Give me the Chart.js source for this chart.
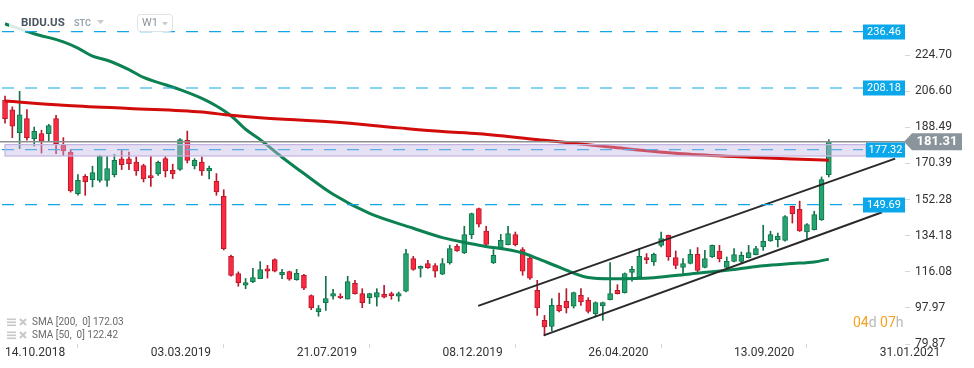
<!DOCTYPE html>
<html lang="en">
<head>
<meta charset="UTF-8">
<title>BIDU.US W1</title>
<style>
  html, body { margin: 0; padding: 0; background: #fff; }
  #wrap { width: 974px; height: 368px; }
</style>
</head>
<body>
<div id="wrap"><canvas id="chart" width="974" height="368"></canvas></div>
<script src="https://cdn.jsdelivr.net/npm/chart.js@4.4.1/dist/chart.umd.min.js"></script>
<script>
// weekly candles, first one is the week of 14.10.2018
var opens = [202.0, 197.3, 185.8, 192.8, 182.8, 185.3, 185.3, 192.8, 179.5, 176.1,
  155.2, 163.9, 162.3, 161.9, 161.9, 164.8, 172.7, 172.7, 171.0, 169.3,
  164.3, 165.1, 172.8, 166.9, 167.4, 181.9, 169.1, 171.0, 166.6, 161.4,
  153.9, 123.8, 115.2, 109.3, 111.1, 112.6, 117.6, 122.2, 114.6, 116.2,
  112.1, 114.3, 104.1, 96.1, 100.6, 103.9, 103.9, 102.4, 110.3, 105.1,
  103.1, 103.4, 104.8, 105.1, 103.9, 106.4, 122.7, 117.7, 120.2, 119.2,
  114.9, 120.5, 128.8, 125.5, 134.7, 147.7, 136.5, 120.5, 128.0, 129.7,
  134.7, 127.2, 123.0, 106.8, 91.7, 88.7, 99.2, 101.3, 98.8, 104.3,
  101.8, 95.1, 98.9, 102.1, 106.8, 105.6, 115.7, 113.4, 123.2, 121.0,
  129.3, 134.3, 123.2, 118.2, 120.2, 124.8, 118.2, 123.5, 126.5, 118.2,
  121.3, 121.3, 123.2, 124.7, 128.5, 131.5, 132.2, 131.8, 148.9, 147.4,
  136.0, 137.2, 142.2, 164.8];
var highs = [204.2, 198.7, 206.5, 197.4, 188.6, 187.0, 190.0, 194.5, 183.3, 177.3,
  164.8, 164.8, 169.0, 174.5, 173.9, 174.9, 177.0, 176.1, 173.6, 170.0,
  173.9, 171.6, 173.9, 170.0, 182.8, 186.6, 172.8, 173.6, 169.0, 165.3,
  157.2, 124.5, 116.0, 112.7, 117.8, 121.2, 119.3, 122.6, 117.3, 116.4,
  117.3, 114.8, 104.5, 99.2, 113.8, 107.3, 105.1, 113.8, 111.8, 107.6,
  105.3, 107.6, 109.3, 105.9, 105.9, 127.3, 123.8, 119.0, 121.8, 120.2,
  122.7, 129.4, 129.8, 138.9, 145.5, 148.0, 138.9, 127.2, 134.8, 138.9,
  136.0, 128.2, 123.5, 111.8, 94.2, 102.6, 105.4, 107.6, 105.9, 107.6,
  103.1, 101.0, 100.9, 120.7, 109.6, 115.5, 118.8, 127.7, 125.2, 125.5,
  136.0, 134.5, 126.5, 122.7, 127.2, 128.2, 126.8, 129.5, 129.3, 123.5,
  127.7, 126.0, 129.3, 128.8, 139.4, 136.4, 135.5, 144.3, 149.0, 151.5,
  140.2, 146.4, 163.6, 182.3];
var lows = [190.6, 183.3, 177.8, 182.0, 179.1, 175.6, 181.5, 175.3, 174.4, 156.0,
  154.5, 154.4, 158.6, 161.0, 158.9, 163.6, 167.3, 167.3, 164.4, 161.1,
  158.9, 164.4, 163.6, 162.8, 166.9, 170.6, 167.6, 164.4, 162.6, 154.4,
  127.0, 113.9, 108.8, 107.6, 110.6, 112.6, 112.9, 116.0, 112.6, 111.8,
  111.8, 107.1, 97.1, 93.8, 96.7, 102.3, 102.6, 102.4, 104.8, 98.1,
  100.1, 98.9, 103.0, 102.3, 101.3, 106.0, 116.8, 113.4, 117.8, 113.4,
  114.6, 119.9, 126.3, 125.2, 132.7, 138.5, 128.5, 120.2, 127.8, 129.5,
  129.0, 114.3, 112.3, 94.2, 84.0, 86.4, 96.0, 95.4, 97.9, 99.2,
  95.4, 93.9, 91.7, 102.0, 104.9, 105.4, 111.4, 113.3, 120.2, 119.2,
  128.5, 121.8, 117.6, 115.2, 120.0, 116.0, 118.0, 123.2, 121.0, 117.9,
  121.0, 120.5, 123.0, 124.5, 126.8, 131.3, 128.5, 131.4, 140.5, 136.3,
  132.7, 137.0, 141.8, 163.6];
var closes = [192.8, 189.0, 194.8, 183.3, 186.5, 181.6, 189.3, 180.3, 176.6, 156.6,
  161.9, 161.3, 165.8, 173.9, 167.8, 171.9, 169.8, 170.3, 166.6, 162.6,
  163.3, 170.9, 166.6, 165.1, 182.3, 171.9, 171.9, 166.6, 167.9, 156.1,
  127.7, 114.2, 110.6, 110.6, 113.2, 117.2, 116.4, 116.4, 115.8, 112.4,
  115.3, 107.9, 98.1, 97.6, 102.6, 105.1, 103.1, 111.1, 105.1, 100.6,
  105.1, 105.6, 103.4, 104.1, 105.1, 125.2, 117.2, 118.8, 118.1, 116.4,
  120.2, 127.7, 126.5, 134.7, 145.2, 139.9, 129.8, 124.3, 131.8, 135.2,
  129.7, 116.4, 112.9, 97.9, 88.4, 99.2, 96.4, 97.9, 105.6, 100.9,
  96.2, 100.6, 100.6, 105.1, 105.1, 115.2, 117.3, 123.8, 122.2, 124.8,
  132.7, 123.5, 119.3, 120.2, 124.8, 116.8, 122.7, 129.3, 122.7, 121.3,
  124.7, 124.3, 125.7, 127.7, 131.3, 134.7, 133.9, 143.8, 145.2, 136.5,
  139.7, 144.7, 162.3, 181.31];

// moving averages (week index, value)
var sma200Weeks = [0, 8, 17, 27, 31, 35, 45, 54, 60, 65, 74, 83, 93, 102, 108, 113];
var sma200Values = [201.7, 199.6, 197.9, 196.1, 194.5, 193.3, 191.1, 188.2, 186.4, 185.3,
  182.0, 178.6, 175.2, 173.5, 172.6, 172.03];
var sma50Weeks = [0, 4, 8, 10, 12, 14, 17, 19, 22, 24, 27, 29, 31, 33, 35, 38, 41, 45,
  50, 56, 60, 65, 71, 73, 76, 80, 83, 89, 94, 100, 104, 108, 111, 113];
var sma50Values = [240.4, 235.4, 231.3, 228.2, 224.2, 222.1, 217.4, 213.5, 209.8, 207.4,
  203.0, 199.2, 194.3, 187.5, 182.3, 173.5, 165.3, 154.9, 145.3, 137.9, 133.2, 129.4,
  125.5, 122.8, 118.4, 113.2, 112.6, 113.1, 115.0, 117.2, 119.1, 120.2, 121.0, 122.42];

// channel lines (week index, price)
var upperTrend = [[64.9, 99.0], [122.1, 172.8]];
var lowerTrend = [[73.9, 84.2], [120.3, 145.9]];

// horizontal levels and the resistance zone
var levels = [236.46, 208.18, 149.69];
var zoneLevel = 177.32;
var zone = [174.1, 179.8];
var lastPrice = 181.31;

var yTicks = [79.87, 97.97, 116.08, 134.18, 152.28, 170.39, 188.49, 206.60, 224.70];
var xTickWeeks = [0, 20, 40, 60, 80, 100, 120];
var xTickLabels = ['14.10.2018', '03.03.2019', '21.07.2019', '08.12.2019', '26.04.2020', '13.09.2020', '31.01.2021'];

var UP = '#24a46e', UP_LINE = '#11744a';
var DOWN = '#fb2a40', DOWN_LINE = '#b8182c';
var LEVEL = '#12a6e8';

var isUp = closes.map(function (c, i) { return c >= opens[i]; });

var bodies = opens.map(function (o, i) { return { x: i, y: [o, closes[i]] }; });
var wicks = lows.map(function (l, i) { return { x: i, y: [l, highs[i]] }; });

function pts(ws, vs) { return ws.map(function (w, i) { return { x: w, y: vs[i] }; }); }
function pairPts(p) { return p.map(function (q) { return { x: q[0], y: q[1] }; }); }

function dashLine(ctx, yPix, x0, x1, color) {
    ctx.beginPath();
    ctx.setLineDash([12, 11]);
    ctx.strokeStyle = color;
    ctx.lineWidth = 1.2;
    ctx.moveTo(x0, yPix);
    ctx.lineTo(x1, yPix);
    ctx.stroke();
    ctx.setLineDash([]);
}

function tag(ctx, text, yPix, left, right) {
    ctx.fillStyle = '#0aa8ea';
    ctx.fillRect(left, Math.round(yPix) - 7.5, right - left, 15);
    ctx.fillStyle = '#fff';
    ctx.font = '11px Roboto';
    ctx.textAlign = 'center';
    ctx.textBaseline = 'middle';
    ctx.fillText(text, (left + right) / 2, Math.round(yPix) + 0.5);
}

// everything drawn on top of the series: zone, levels, tags, header, legend
var overlay = {
    id: 'overlay',
    afterDatasetsDraw: function (chart) {
        var ctx = chart.ctx, a = chart.chartArea, x = chart.scales.x, y = chart.scales.y;
        var tagLeft = a.right - 42;
        ctx.save();

        // header panel
        ctx.fillStyle = 'rgba(255,255,255,0.85)';
        ctx.fillRect(9, 11, 170, 21);

        // zone dashed line sits under the zone
        dashLine(ctx, y.getPixelForValue(zoneLevel), 2, tagLeft, LEVEL);
        var zt = y.getPixelForValue(zone[1]), zb = y.getPixelForValue(zone[0]);
        var zl = x.getPixelForValue(0), zr = tagLeft + 3;
        ctx.fillStyle = 'rgba(196,180,228,0.42)';
        ctx.fillRect(zl, zt, zr - zl, zb - zt);
        ctx.strokeStyle = '#c3b3e0';
        ctx.lineWidth = 1.2;
        ctx.strokeRect(zl, zt, zr - zl, zb - zt);

        levels.forEach(function (v) {
            dashLine(ctx, y.getPixelForValue(v), 2, tagLeft, LEVEL);
        });

        // last price line
        var yp = y.getPixelForValue(lastPrice);
        ctx.beginPath();
        ctx.strokeStyle = '#8f8f8f';
        ctx.lineWidth = 1.5;
        ctx.moveTo(0, yp);
        ctx.lineTo(a.right, yp);
        ctx.stroke();

        levels.forEach(function (v) { tag(ctx, v.toFixed(2), y.getPixelForValue(v), tagLeft, a.right); });
        tag(ctx, zoneLevel.toFixed(2), y.getPixelForValue(zoneLevel), tagLeft + 3, a.right);

        // price marker on the axis
        ctx.fillStyle = '#8a959b';
        ctx.beginPath();
        ctx.moveTo(a.right - 1, yp);
        ctx.lineTo(a.right + 7, yp - 8.5);
        ctx.lineTo(a.right + 57, yp - 8.5);
        ctx.lineTo(a.right + 57, yp + 8.5);
        ctx.lineTo(a.right + 7, yp + 8.5);
        ctx.closePath();
        ctx.fill();
        ctx.fillStyle = '#fff';
        ctx.font = 'bold 13px Roboto';
        ctx.textAlign = 'center';
        ctx.textBaseline = 'middle';
        ctx.fillText(lastPrice.toFixed(2), a.right + 32, yp + 0.5);

        // header
        ctx.textAlign = 'left';
        ctx.fillStyle = '#4a5660';
        ctx.font = 'bold 11.5px Roboto';
        ctx.fillText('BIDU.US', 21, 23);
        ctx.fillStyle = '#9ba6ae';
        ctx.font = 'bold 9px Roboto';
        ctx.fillText('STC', 74, 24);
        ctx.fillStyle = '#c5cbd0';
        ctx.beginPath();
        ctx.moveTo(97, 20); ctx.lineTo(104, 20); ctx.lineTo(100.5, 24); ctx.closePath(); ctx.fill();
        ctx.strokeStyle = '#dde2e6';
        ctx.lineWidth = 1;
        ctx.beginPath();
        ctx.roundRect(137.5, 14.5, 35, 17, 3);
        ctx.stroke();
        ctx.fillStyle = '#8a949b';
        ctx.font = '11px Roboto';
        ctx.fillText('W1', 142, 23.5);
        ctx.fillStyle = '#c5cbd0';
        ctx.beginPath();
        ctx.moveTo(162, 22); ctx.lineTo(168, 22); ctx.lineTo(165, 25.5); ctx.closePath(); ctx.fill();

        // indicator legend
        var rows = [['SMA [200,  0] ' + sma200Values[sma200Values.length - 1].toFixed(2), 322.5],
                    ['SMA [50,  0] ' + sma50Values[sma50Values.length - 1].toFixed(2), 335.5]];
        rows.forEach(function (r) {
            var ry = r[1];
            ctx.fillStyle = '#c8c8c8';
            ctx.fillRect(7, ry - 4, 9, 1.6);
            ctx.fillRect(7, ry - 1, 9, 1.6);
            ctx.fillRect(7, ry + 2, 9, 1.6);
            ctx.strokeStyle = '#c8c8c8';
            ctx.lineWidth = 2;
            ctx.beginPath();
            ctx.moveTo(20, ry - 3.5); ctx.lineTo(26, ry + 2.5);
            ctx.moveTo(26, ry - 3.5); ctx.lineTo(20, ry + 2.5);
            ctx.stroke();
            ctx.fillStyle = '#6a6a6a';
            ctx.font = '10px Roboto';
            ctx.fillText(r[0], 32, ry);
        });

        // countdown
        var cx = 853;
        ctx.font = '14px Roboto';
        [['04', '#f6a21d'], ['d ', '#b9b9b9'], ['07', '#f6a21d'], ['h', '#b9b9b9']].forEach(function (p) {
            ctx.fillStyle = p[1];
            ctx.fillText(p[0], cx, 323);
            cx += ctx.measureText(p[0]).width;
        });

        ctx.restore();
    }
};

new Chart(document.getElementById('chart'), {
    data: {
        datasets: [
            {
                type: 'line', data: pairPts(upperTrend), borderColor: '#2a2a2a', borderWidth: 2,
                pointRadius: 0, order: 0
            },
            {
                type: 'line', data: pairPts(lowerTrend), borderColor: '#2a2a2a', borderWidth: 2,
                pointRadius: 0, order: 0
            },
            {
                type: 'line', data: pts(sma200Weeks, sma200Values), borderColor: '#d20b0b', borderWidth: 3,
                pointRadius: 0, cubicInterpolationMode: 'monotone', order: 1
            },
            {
                type: 'line', data: pts(sma50Weeks, sma50Values), borderColor: '#0c8152', borderWidth: 3,
                pointRadius: 0, cubicInterpolationMode: 'monotone', order: 1
            },
            {
                type: 'bar', data: bodies, grouped: false, barThickness: 5, minBarLength: 1,
                backgroundColor: isUp.map(function (u) { return u ? UP : DOWN; }),
                borderColor: isUp.map(function (u) { return u ? UP_LINE : DOWN_LINE; }),
                borderWidth: 1, borderSkipped: false, order: 2
            },
            {
                type: 'bar', data: wicks, grouped: false, barThickness: 1,
                backgroundColor: isUp.map(function (u) { return u ? UP_LINE : DOWN_LINE; }),
                borderWidth: 0, order: 3
            }
        ]
    },
    options: {
        responsive: false,
        devicePixelRatio: 1,
        animation: false,
        layout: { padding: 0 },
        plugins: { legend: { display: false }, tooltip: { enabled: false } },
        scales: {
            x: {
                type: 'linear', min: -0.69, max: 123.45, offset: false,
                grid: { drawOnChartArea: false, drawTicks: true, tickLength: 4, color: '#d6d6d6' },
                border: { display: false },
                ticks: {
                    align: 'start', autoSkip: false, maxRotation: 0, padding: -2, color: '#333',
                    font: { family: 'Roboto', size: 12 },
                    callback: function (v, i) { return xTickLabels[i]; }
                },
                afterBuildTicks: function (s) { s.ticks = xTickWeeks.map(function (w) { return { value: w }; }); },
                afterFit: function (s) { s.height = 24; s.paddingLeft = 0; s.paddingRight = 0; }
            },
            y: {
                type: 'linear', position: 'right', min: 79.87, max: 252.3,
                grid: { drawOnChartArea: false, drawTicks: true, tickLength: 5, color: '#d6d6d6' },
                border: { display: false },
                ticks: {
                    padding: 5, color: '#333', font: { family: 'Roboto', size: 12 },
                    callback: function (v) { return v.toFixed(2); }
                },
                afterBuildTicks: function (s) { s.ticks = yTicks.map(function (v) { return { value: v }; }); },
                afterFit: function (s) { s.width = 69; s.paddingTop = 0; s.paddingBottom = 0; }
            }
        }
    },
    plugins: [overlay]
});
</script>
</body>
</html>
